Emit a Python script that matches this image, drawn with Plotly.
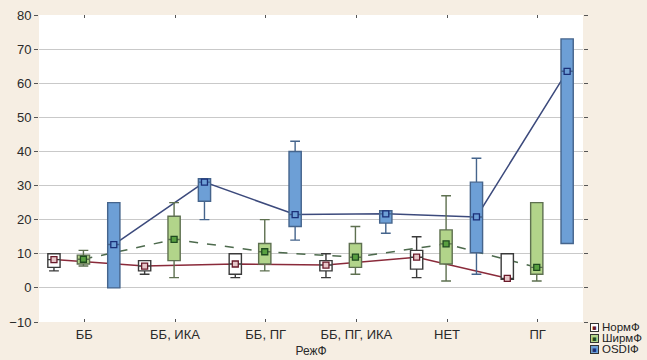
import plotly.graph_objects as go

categories = ["ББ", "ББ, ИКА", "ББ, ПГ", "ББ, ПГ, ИКА", "НЕТ", "ПГ"]

norm_min = [5, 4, 3, 3, 3, 2.5]
norm_q1 = [6, 5, 4, 5, 5.5, 2.5]
norm_med = [8.3, 6.4, 7, 6.7, 9, 2.8]
norm_q3 = [10, 8, 10, 8, 11, 10]
norm_max = [10, 8, 10, 10, 15, 10]

shir_min = [6.4, 3, 5, 4, 2, 2]
shir_q1 = [7, 8, 7, 6, 7, 4]
shir_med = [8.4, 14.2, 10.6, 9, 12.9, 6]
shir_q3 = [9.6, 21, 13, 13, 17, 25]
shir_max = [11, 25, 20, 18, 27, 25]

osdi_min = [0, 20, 14, 16, 4, 13]
osdi_q1 = [0, 25.4, 18, 19, 10.3, 13]
osdi_med = [12.7, 31, 21.5, 21.7, 20.8, 63.5]
osdi_q3 = [25, 32, 40, 22.6, 31, 73]
osdi_max = [25, 32, 43, 22.6, 38, 73]

series = [
    dict(name="НормФ", mn=norm_min, q1=norm_q1, med=norm_med, q3=norm_q3, mx=norm_max,
         off=-0.335, fill="#ffffff", edge="#3a3a3a", line="#8a2a3a", dash="solid",
         mfill="#e6c6c8", medge="#6a1a2a"),
    dict(name="ШирмФ", mn=shir_min, q1=shir_q1, med=shir_med, q3=shir_q3, mx=shir_max,
         off=-0.01, fill="#b2d48a", edge="#5e7050", line="#4d6a4d", dash="dash",
         mfill="#58a040", medge="#1f4a1f"),
    dict(name="OSDIФ", mn=osdi_min, q1=osdi_q1, med=osdi_med, q3=osdi_q3, mx=osdi_max,
         off=0.325, fill="#6d9fd6", edge="#45648c", line="#3c4a7c", dash="solid",
         mfill="#6d9fd6", medge="#1a2f78"),
]

BG = "#f6eee3"
fig = go.Figure()
idx = list(range(len(categories)))

for s in series:
    xs = [i + s["off"] for i in idx]
    fig.add_trace(go.Scatter(
        x=xs, y=s["med"], mode="lines",
        line=dict(color=s["line"], width=1.5, dash=s["dash"]),
        showlegend=False, hoverinfo="skip", zorder=0))

for s in series:
    xs = [i + s["off"] for i in idx]
    fig.add_trace(go.Box(
        x=xs, q1=s["q1"], median=s["med"], q3=s["q3"],
        lowerfence=s["mn"], upperfence=s["mx"],
        width=0.135, whiskerwidth=0.8,
        fillcolor=s["fill"], line=dict(color=s["edge"], width=1.4),
        name=s["name"], boxpoints=False, hoverinfo="skip", zorder=1,
        showlegend=False))

for s in series:
    xs = [i + s["off"] for i in idx]
    fig.add_trace(go.Scatter(
        x=xs, y=s["med"], mode="markers",
        marker=dict(symbol="square", size=6, color=s["mfill"],
                    line=dict(color=s["medge"], width=1.3)),
        showlegend=False, hoverinfo="skip", zorder=2))

FONT = "Liberation Sans, Arial, sans-serif"
axis_font = dict(family=FONT, size=13, color="#2a2a2a")

# plot-area geometry in window pixels
PL, PR, PT, PB = 39, 583, 15, 322

def px_x(p):
    return (p - PL) / (PR - PL)

def px_y(p):
    return (PB - p) / (PB - PT)

# compact legend drawn as annotations, like the original
for k, s in enumerate(series):
    ypix = 327 + k * 11
    fig.add_annotation(xref="paper", yref="paper", x=px_x(594), y=px_y(ypix),
                       text="<b>▪</b>", showarrow=False, xanchor="center", yanchor="middle",
                       font=dict(family="DejaVu Sans", size=7, color=s["medge"]),
                       bgcolor=s["fill"], bordercolor="#333", borderwidth=1, borderpad=0,
                       width=7, height=7)
    fig.add_annotation(xref="paper", yref="paper", x=px_x(600), y=px_y(ypix),
                       text=s["name"], showarrow=False, xanchor="left", yanchor="middle",
                       font=dict(family=FONT, size=11.5, color="#222"))

fig.update_layout(
    width=647, height=360,
    margin=dict(l=PL, r=647 - PR, t=PT, b=360 - PB, autoexpand=False),
    paper_bgcolor=BG,
    plot_bgcolor="#ffffff",
    showlegend=False,
    font=axis_font,
)

fig.update_xaxes(
    range=[-0.5, 5.5], tickmode="array", tickvals=idx, ticktext=categories,
    showgrid=False, zeroline=False, showline=True, linecolor="#333", linewidth=1,
    mirror="ticks", ticks="inside", ticklen=3, tickcolor="#555",
    tickfont=axis_font, ticklabeloverflow="allow",
    title=dict(text="РежФ", font=dict(family=FONT, size=12, color="#2a2a2a"),
               standoff=6),
)
fig.update_yaxes(
    range=[-10, 80], dtick=10, tick0=0,
    showgrid=True, gridcolor="#c9c9c9", gridwidth=1,
    zeroline=False, showline=True, linecolor="#333", linewidth=1,
    mirror="ticks", ticks="outside", ticklen=4, tickcolor="#555",
    tickfont=axis_font, ticklabeloverflow="allow",
)

fig.write_html(
    "out.html",
    config={"displayModeBar": False, "staticPlot": True},
    post_script="document.body.style.margin='0';document.body.style.background='%s';" % BG,
)
